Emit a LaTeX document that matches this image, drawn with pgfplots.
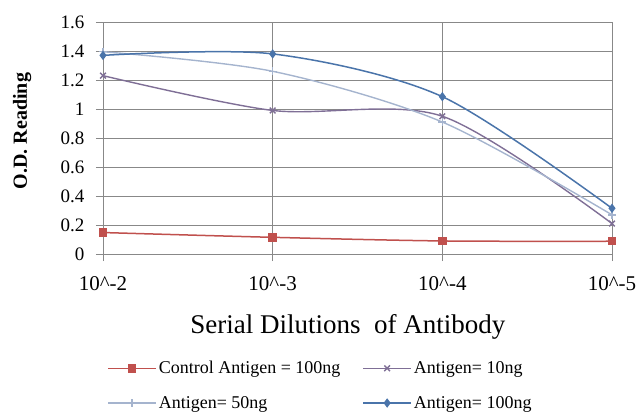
\documentclass[border=0pt]{standalone}
\usepackage{fontspec}
\IfFontExistsTF{LiberationSerif-Regular.ttf}{%
  \setmainfont{LiberationSerif}[Extension=.ttf, UprightFont=*-Regular, BoldFont=*-Bold,
    ItalicFont=*-Italic, BoldItalicFont=*-BoldItalic]}{%
  \setmainfont{Liberation Serif}}
\usepackage{pgfplots}
\pgfplotsset{compat=1.18}

\definecolor{ctrl}{HTML}{C0504D}
\definecolor{ag10}{HTML}{7F6F96}
\definecolor{ag50}{HTML}{A5B4CE}
\definecolor{ag100}{HTML}{4A74AA}
\definecolor{gridc}{HTML}{888888}

\begin{document}
\begin{tikzpicture}
\begin{axis}[
    at={(103pt,163pt)}, anchor=south west,
    scale only axis,
    width=509pt, height=232pt,
    xmin=0, xmax=3, ymin=0, ymax=1.6,
    xtick={0,1,2,3},
    xticklabels={10\^{}-2,10\^{}-3,10\^{}-4,10\^{}-5},
    ytick={0,0.2,...,1.6},
    yticklabels={0,0.2,0.4,0.6,0.8,1,1.2,1.4,1.6},
    /pgf/number format/assume math mode=true,
    grid=major,
    major grid style={gridc, line width=0.9pt},
    axis line style={gridc, line width=0.9pt},
    tick style={gridc, line width=0.9pt},
    tick align=outside, major tick length=7pt,
    tick pos=left,
    xticklabel style={font=\rmfamily\fontsize{21}{24}\selectfont, yshift=-12pt},
    yticklabel style={font=\rmfamily\fontsize{19}{22}\selectfont, xshift=-8pt},
    xlabel={Serial Dilutions\ \ of Antibody},
    ylabel={O.D. Reading},
    xlabel style={font=\rmfamily\fontsize{27}{30}\selectfont, at={(axis description cs:0.481,-0.315)}, anchor=center},
    ylabel style={font=\rmfamily\bfseries\fontsize{20}{23}\selectfont, at={(axis description cs:-0.159,0.53)}, anchor=center},
    legend columns=2,
    legend style={draw=none, fill=none, inner sep=0pt,
        at={(axis description cs:0.008,-0.453)}, anchor=north west,
        font=\rmfamily\fontsize{18}{20}\selectfont,
        /tikz/every even column/.append style={column sep=20pt},
        row sep=17pt},
    legend cell align=left,
    legend image code/.code={
        \draw[mark repeat=2,mark phase=2,#1] plot coordinates {(0pt,0pt) (24pt,0pt) (48pt,0pt)};
    },
]
\addplot[ctrl, line width=1.5pt, smooth, mark=square*, mark size=3.5pt, mark options={solid, fill=ctrl}]
    coordinates {(0,0.148) (1,0.115) (2,0.09) (3,0.088)};
\addlegendentry{Control Antigen = 100ng}
\addplot[ag10, line width=1.4pt, smooth, mark=x, mark size=4pt, mark options={solid}]
    coordinates {(0,1.23) (1,0.99) (2,0.95) (3,0.21)};
\addlegendentry{Antigen= 10ng}
\addplot[ag50, line width=1.4pt, smooth, mark=+, mark size=4pt, mark options={solid}]
    coordinates {(0,1.395) (1,1.26) (2,0.91) (3,0.27)};
\addlegendentry{Antigen= 50ng}
\addplot[ag100, line width=1.5pt, smooth, mark=diamond*, mark size=3.5pt, mark options={solid, fill=ag100}]
    coordinates {(0,1.37) (1,1.38) (2,1.085) (3,0.315)};
\addlegendentry{Antigen= 100ng}
\end{axis}
\pgfresetboundingbox
\path (0,0) rectangle (639pt,417pt);
\end{tikzpicture}
\end{document}
